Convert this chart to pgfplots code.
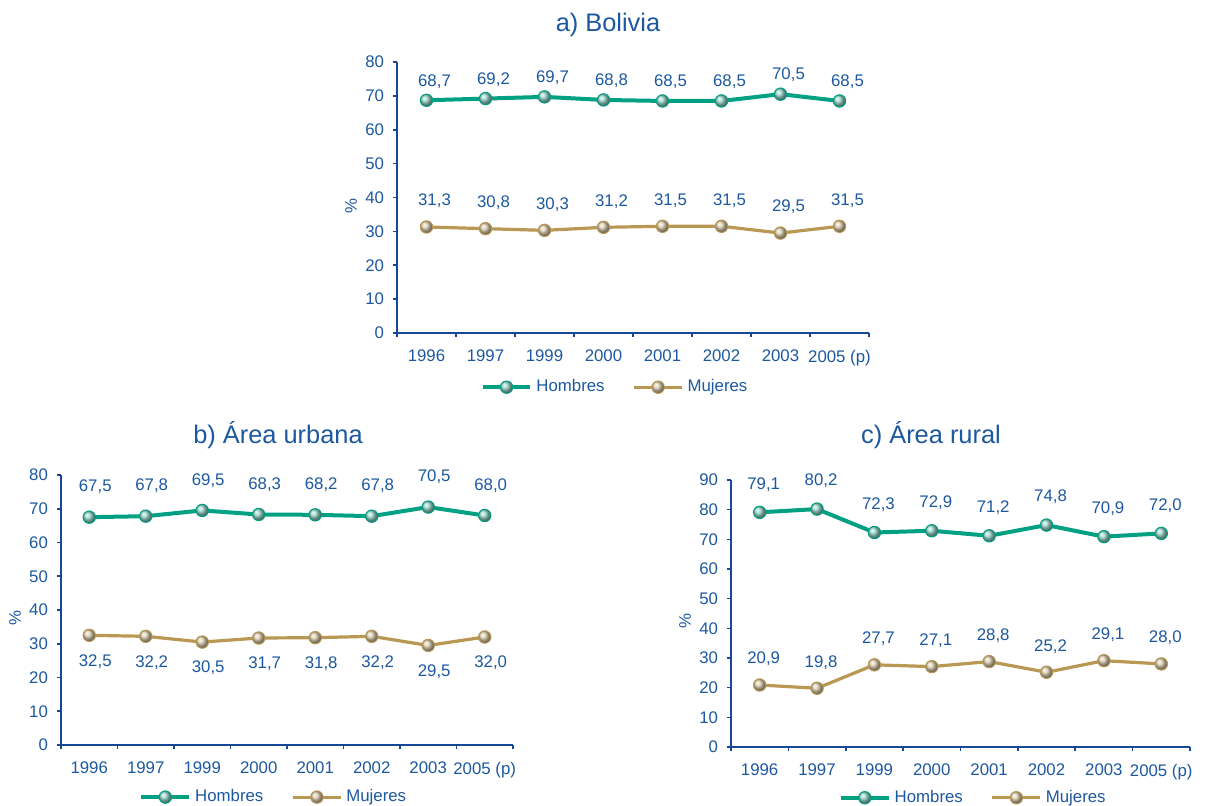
\documentclass[border=0pt]{standalone}
\usepackage{fontspec}
\setmainfont{Liberation Sans}
\usepackage{pgfplots}
\pgfplotsset{compat=1.18}

\definecolor{hom}{RGB}{0,160,130}
\definecolor{muj}{RGB}{184,152,82}
\definecolor{txt}{RGB}{28,88,160}
\definecolor{axl}{RGB}{22,72,150}

\newcommand{\chartfont}{\fontsize{8.4}{10}\selectfont}

\pgfplotsset{
  panel/.style={
    scale only axis,
    axis x line*=bottom, axis y line*=left,
    axis line style={axl, line width=1pt},
    every tick/.style={axl, line width=0.8pt},
    tick align=outside, major tick length=2pt,
    xmin=-0.5, xmax=7.5, ymin=0,
    xtick={-0.5,0.5,1.5,2.5,3.5,4.5,5.5,6.5,7.5},
    xticklabels={1996,1997,1999,2000,2001,2002,2003,2005 (p),{}},
    ticklabel style={font=\chartfont, text=txt},
    yticklabel style={xshift=-1pt},
    /pgf/number format/assume math mode=true,
    ylabel={\%}, ylabel style={font=\chartfont, text=txt,
      at={(rel axis cs:0,0.47)}, anchor=center, yshift=23pt},
    legend columns=2,
    legend style={draw=none, fill=none, font=\chartfont, text=txt,
      anchor=center, /tikz/every even column/.append style={column sep=12pt}},
    legend image code/.code={\draw[mark repeat=2,mark phase=2,#1]
      plot coordinates {(0cm,0cm) (0.42cm,0cm) (0.84cm,0cm)};},
    nodes near coords={\pgfmathprintnumber[fixed,fixed zerofill,precision=1,use comma]{\pgfplotspointmeta}},
    every node near coord/.append style={font=\chartfont, text=txt, anchor=center},
    clip=false,
  },
  hombres/.style={hom, line width=2pt, mark=ball, mark size=3.1pt,
    mark options={ball color=hom!40!white, line width=0.5pt}},
  mujeres/.style={muj, line width=1.6pt, mark=ball, mark size=3.1pt,
    mark options={ball color=muj!45!white, line width=0.5pt}},
}

\begin{document}
\begin{tikzpicture}
\useasboundingbox (0pt,-403pt) rectangle (610.5pt,0pt);

\node[font=\fontsize{12.7}{15}\selectfont, text=txt] at (304pt,-12.5pt) {a) Bolivia};
\node[font=\fontsize{12.7}{15}\selectfont, text=txt] at (139pt,-217.5pt) {b) Área urbana};
\node[font=\fontsize{12.7}{15}\selectfont, text=txt] at (465.5pt,-217.5pt) {c) Área rural};

% a) Bolivia
\begin{axis}[panel, at={(198.5pt,-166.5pt)}, anchor=south west,
  width=236pt, height=135.5pt, ymax=80, ytick={0,10,...,80},
  xticklabel style={xshift=14.75pt, yshift=-3pt},
  legend style={at={(0.464,-0.2)}}]
\addplot[hombres, every node near coord/.append style={xshift=4pt, yshift=9.5pt}]
  coordinates {(0,68.7)(1,69.2)(2,69.7)(3,68.8)(4,68.5)(5,68.5)(6,70.5)(7,68.5)};
\addlegendentry{Hombres}
\addplot[mujeres, every node near coord/.append style={xshift=4pt, yshift=13pt}]
  coordinates {(0,31.3)(1,30.8)(2,30.3)(3,31.2)(4,31.5)(5,31.5)(6,29.5)(7,31.5)};
\addlegendentry{Mujeres}
\end{axis}

% b) Area urbana
\begin{axis}[panel, at={(30.5pt,-372.5pt)}, anchor=south west,
  width=226pt, height=135pt, ymax=80, ytick={0,10,...,80},
  xticklabel style={xshift=14.1pt, yshift=-3pt},
  legend style={at={(0.473,-0.193)}}]
\addplot[hombres, every node near coord/.append style={xshift=3pt, yshift=15pt}]
  coordinates {(0,67.5)(1,67.8)(2,69.5)(3,68.3)(4,68.2)(5,67.8)(6,70.5)(7,68.0)};
\addlegendentry{Hombres}
\addplot[mujeres, every node near coord/.append style={xshift=3pt, yshift=-13pt}]
  coordinates {(0,32.5)(1,32.2)(2,30.5)(3,31.7)(4,31.8)(5,32.2)(6,29.5)(7,32.0)};
\addlegendentry{Mujeres}
\end{axis}

% c) Area rural
\begin{axis}[panel, at={(365.5pt,-373.5pt)}, anchor=south west,
  width=229.5pt, height=133.5pt, ymax=90, ytick={0,10,...,90},
  xticklabel style={xshift=14.3pt, yshift=-3pt},
  legend style={at={(0.53,-0.19)}}]
\addplot[hombres, every node near coord/.append style={xshift=2pt, yshift=14pt}]
  coordinates {(0,79.1)(1,80.2)(2,72.3)(3,72.9)(4,71.2)(5,74.8)(6,70.9)(7,72.0)};
\addlegendentry{Hombres}
\addplot[mujeres, every node near coord/.append style={xshift=2pt, yshift=13pt}]
  coordinates {(0,20.9)(1,19.8)(2,27.7)(3,27.1)(4,28.8)(5,25.2)(6,29.1)(7,28.0)};
\addlegendentry{Mujeres}
\end{axis}
\end{tikzpicture}
\end{document}
